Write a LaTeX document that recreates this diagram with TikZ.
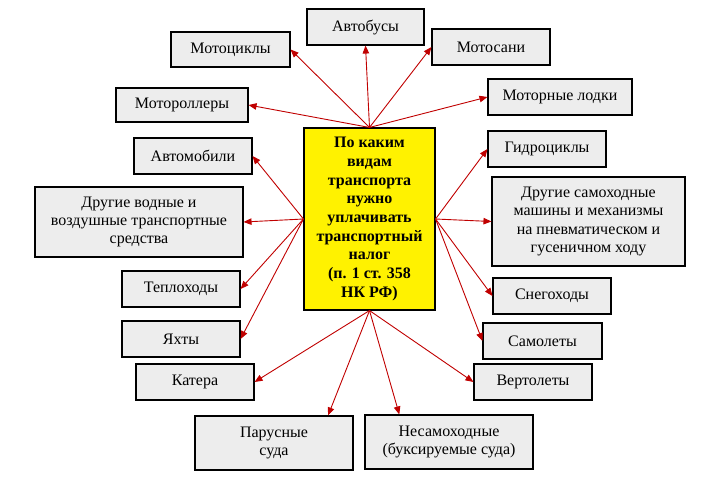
\documentclass[tikz,border=0pt]{standalone}
\usepackage{fontspec}
\setmainfont{Liberation Serif}
\newfontfamily\boxfont{Liberation Serif}
\usetikzlibrary{arrows.meta}
\definecolor{boxgray}{HTML}{EDEDED}
\definecolor{arrowred}{HTML}{C00000}

\begin{document}
\begin{tikzpicture}[x=1pt, y=-1pt,
    kind/.style={draw, line width=1.1pt, fill=boxgray, inner sep=0pt, align=center,
      minimum width=118pt, minimum height=36pt, font=\boxfont\fontsize{16}{18.4}\selectfont},
    main/.style={kind, fill=yellow, font=\boxfont\bfseries\fontsize{16}{18.7}\selectfont},
    link/.style={draw=arrowred, line width=0.9pt, -{Triangle[length=8pt,width=6.5pt]}, arrowred}]
  \useasboundingbox (0,0) rectangle (723,485);
  % Place the central node
  \node[main, minimum width=131pt, minimum height=182pt] (tax) at (369.5,219)
    {По каким\\видам\\транспорта\\нужно\\уплачивать\\транспортный\\налог\\(п. 1 ст. 358\\НК РФ)};
  % Place the nodes on top
  \node[kind, minimum width=119pt, minimum height=35pt] (moto) at (230.5,49.5) {Мотоциклы};
  \node[kind, minimum width=117pt] (bus) at (365.5,27) {Автобусы};
  \node[kind] (sled) at (491,47) {Мотосани};
  \node[kind, minimum width=144pt] (boat) at (560,97) {Моторные лодки};
  % Place the nodes on the left
  \node[kind, minimum width=132pt, minimum height=34pt] (scoot) at (182,105) {Мотороллеры};
  \node[kind] (car) at (193,156) {Автомобили};
  \node[kind, minimum width=208pt, minimum height=70pt] (other) at (139,222)
    {Другие водные и\\воздушные транспортные\\средства};
  \node[kind] (ship) at (181,289) {Теплоходы};
  \node[kind] (yacht) at (181,339) {Яхты};
  \node[kind] (cutter) at (195,382) {Катера};
  % Place the nodes at the bottom
  \node[kind, minimum width=158pt, minimum height=54pt] (sail) at (274,443) {Парусные\\суда};
  \node[kind, minimum width=168pt, minimum height=54pt] (tow) at (449,442)
    {Несамоходные\\(буксируемые суда)};
  % Place the nodes on the right
  \node[kind] (heli) at (533,382) {Вертолеты};
  \node[kind, minimum width=119pt] (plane) at (542.5,341) {Самолеты};
  \node[kind] (snow) at (552,296) {Снегоходы};
  \node[kind, minimum width=193pt, minimum height=89pt] (machine) at (588.5,221.5)
    {Другие самоходные\\машины и механизмы\\на пневматическом и\\гусеничном ходу};
  \node[kind] (jet) at (547,149) {Гидроциклы};
  % Draw arrows from the top
  \draw[link] (tax.north) -- (moto.east);
  \draw[link] (tax.north) -- (bus.south);
  \draw[link] (tax.north) -- (sled.west);
  \draw[link] (tax.north) -- (boat.west);
  \draw[link] (tax.north) -- (scoot.east);
  % Draw arrows to the left
  \draw[link] (tax.west) -- (car.east);
  \draw[link] (tax.west) -- (other.east);
  \draw[link] (tax.west) -- (ship.east);
  \draw[link] (tax.west) -- (yacht.east);
  % Draw arrows from the bottom
  \draw[link] (tax.south) -- (cutter.east);
  \draw[link] (tax.south) -- (sail.27);
  \draw[link] (tax.south) -- (tow.151);
  \draw[link] (tax.south) -- (heli.west);
  % Draw arrows to the right
  \draw[link] (tax.east) -- (plane.west);
  \draw[link] (tax.east) -- (snow.west);
  \draw[link] (tax.east) -- (machine.west);
  \draw[link] (tax.east) -- (jet.west);
\end{tikzpicture}
\end{document}
